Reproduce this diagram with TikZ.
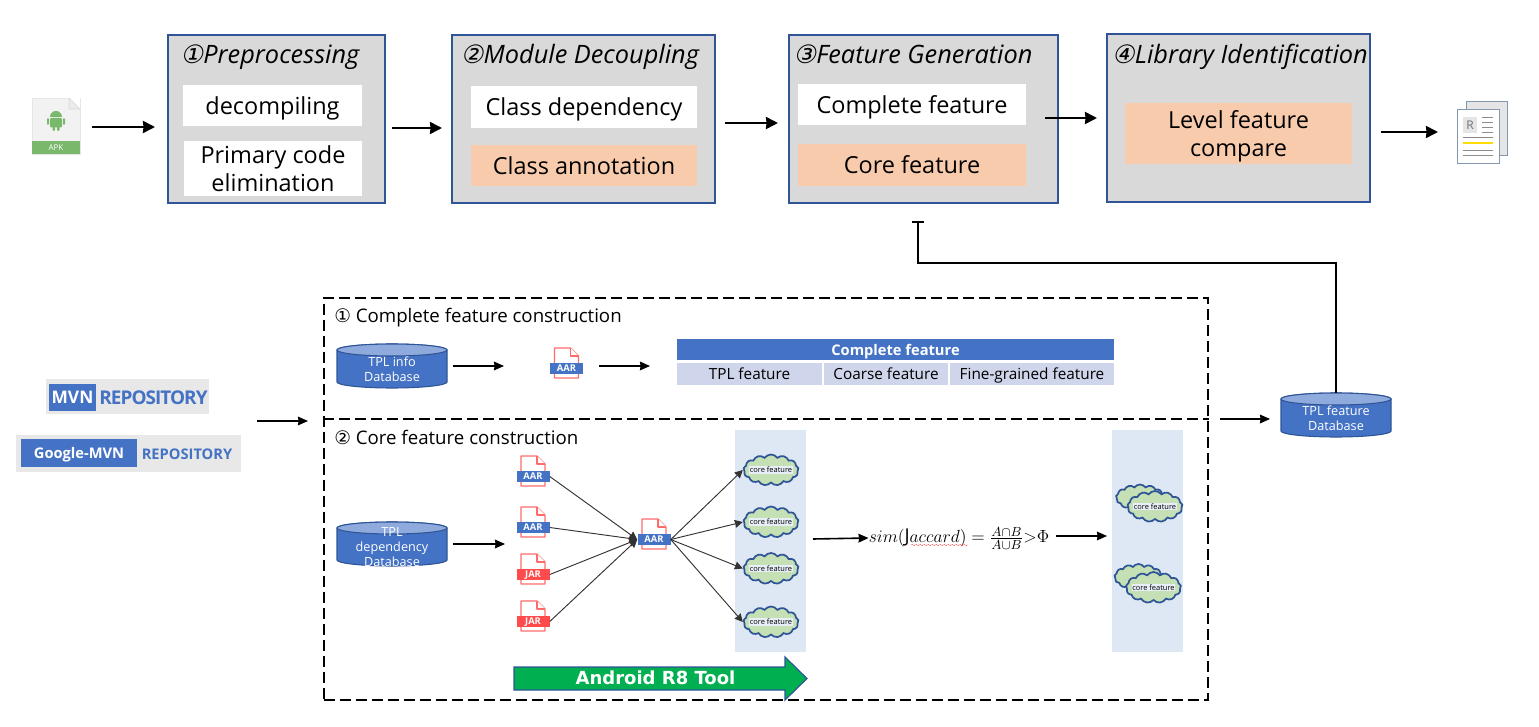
\documentclass[tikz,border=0pt]{standalone}
\usepackage{fontspec}
\usepackage{amsmath}
\setmainfont{Open Sans}
\newfontfamily\circfont{DejaVu Sans}
\newfontfamily\circslant[FakeSlant=0.2]{DejaVu Sans}
\usetikzlibrary{positioning,calc,arrows.meta}
\usetikzlibrary{shapes.symbols}
\usetikzlibrary{decorations.pathmorphing}
\definecolor{boxblue}{HTML}{2F5597}
\definecolor{midblue}{HTML}{4472C4}
\definecolor{topblue}{HTML}{8FAADC}
\definecolor{stagegray}{HTML}{D9D9D9}
\definecolor{peach}{HTML}{F8CBAD}
\definecolor{cellblue}{HTML}{CFD5EA}
\definecolor{panelblue}{HTML}{DEE8F5}
\definecolor{cloudgreen}{HTML}{C5E0B4}
\definecolor{filered}{HTML}{FF6B6B}
\definecolor{jarred}{HTML}{FF4B4B}
\definecolor{apkgreen}{HTML}{7AB86C}
\definecolor{logogray}{HTML}{E8E8E8}
\definecolor{pagegray}{HTML}{8497B0}
\definecolor{toolgreen}{HTML}{00B050}
\tikzset{%
  stage/.style={
    rectangle,
    draw=boxblue,
    fill=stagegray,
    line width=1.5pt,
    inner sep=0pt
  },
  part/.style={
    rectangle,
    align=center,
    inner sep=0pt,
    text height=13.5pt,
    text depth=0pt,
    font=\fontsize{17.6}{20.5}\selectfont
  },
  part two/.style={
    part,
    text height=34pt
  },
  stage title/.style={
    inner sep=0pt,
    text height=14pt,
    text depth=4pt,
    font=\fontsize{19}{22}\selectfont\itshape
  },
  feature title/.style={
    anchor=west,
    inner sep=0pt,
    font=\fontsize{14}{16}\selectfont
  },
  database/.style={
    draw=boxblue,
    line width=0.8pt,
    fill=midblue
  },
  database text/.style={
    rectangle,
    text=white,
    align=center,
    inner sep=0pt,
    font=\fontsize{9.5}{11.3}\selectfont
  },
  file outline/.style={
    draw=filered,
    fill=white,
    line width=0.8pt,
    line join=round
  },
  file tag/.style={
    rectangle,
    text=white,
    inner sep=0pt,
    text height=5.2pt,
    text depth=0pt,
    minimum width=33*0.75pt,
    minimum height=11.5*0.75pt,
    font=\fontsize{7}{8}\selectfont\bfseries
  },
  table cell/.style={
    rectangle,
    inner sep=0pt,
    text height=8.5pt,
    text depth=0pt,
    font=\fontsize{11.5}{13}\selectfont
  },
  core cloud/.style={
    cloud,
    cloud puffs=13,
    cloud puff arc=110,
    aspect=1.7,
    draw=boxblue,
    fill=cloudgreen,
    line width=1.3pt,
    inner sep=0pt,
    minimum width=55*0.75pt,
    minimum height=31*0.75pt
  },
  back cloud/.style={
    core cloud,
    minimum width=48*0.75pt,
    minimum height=26*0.75pt
  },
  core label/.style={
    rectangle,
    fill=panelblue!70!white,
    inner sep=0.6pt,
    minimum width=40*0.75pt,
    font=\fontsize{5.6}{7}\selectfont
  },
  flow/.style={
    -{Stealth[length=9pt,width=9pt,inset=0.4pt]},
    line width=1.8pt
  },
  small flow/.style={
    -{Stealth[length=7.5pt,width=6.5pt,inset=0.4pt]},
    line width=1.2pt
  },
  thin flow/.style={
    -{Stealth[length=6pt,width=6pt,inset=0.3pt]},
    line width=0.7pt,
    draw=black!80
  },
}
\begin{document}
\begin{tikzpicture}[x=0.75pt, y=-0.75pt]
    \useasboundingbox (0,0) rectangle (1539,727);

    % top row
    \foreach \i/\x/\y/\w/\h in {1/276.5/119/217/168,2/583.5/119/263/168,3/923.5/119/269/168,4/1238.5/118/263/168}
        \node [stage, minimum width=\w*0.75pt, minimum height=\h*0.75pt] (stage-\i) at (\x,\y) {};
    \foreach \i/\x/\n/\t in {1/270/{①}/Preprocessing,2/580/{②}/Module Decoupling,3/913/{③}/Feature Generation,4/1240/{④}/Library Identification}
        \node [stage title] (title-\i) at (\x,56.5) {{\circslant\n}\t};

    \foreach \n/\x/\y/\w/\h/\c/\t in {
        decompile/272.5/105.5/179/41/white/decompiling,
        dependency/584/107/226/42/white/Class dependency,
        annotation/584/165.5/226/41/peach/Class annotation,
        complete/912/104.5/228/41/white/Complete feature,
        core/912/165/228/42/peach/Core feature}
        \node [part, fill=\c, minimum width=\w*0.75pt, minimum height=\h*0.75pt] (\n) at (\x,\y) {\t};
    \foreach \n/\x/\y/\w/\h/\c/\t in {
        primary/273/168.5/178/55/white/{Primary code\\elimination},
        level/1238.5/133.5/227/61/peach/{Level feature\\compare}}
        \node [part two, fill=\c, minimum width=\w*0.75pt, minimum height=\h*0.75pt] (\n) at (\x,\y) {\t};

    % apk icon
    \node [draw=black!10, fill=black!5, minimum width=48*0.75pt, minimum height=56*0.75pt, inner sep=0pt] (apk) at (56,126) {};
    \fill [white] (69,98) -- (80,98) -- (80,109) -- cycle;
    \draw [black!15, fill=black!8] (69,98) -- (69,109) -- (80,109) -- cycle;
    \node [fill=apkgreen, text=white, minimum width=48*0.75pt, minimum height=12.5*0.75pt, inner sep=0pt, font=\fontsize{6}{7}\selectfont] (apk-tag) at (56,147.75) {APK};
    \fill [apkgreen] (50,117) arc (180:0:4.5pt) -- cycle;
    \fill [apkgreen, rounded corners=0.8pt] (50,118) rectangle (62,127.5);
    \fill [apkgreen, rounded corners=0.8pt] (47,118) rectangle (49,125);
    \fill [apkgreen, rounded corners=0.8pt] (63,118) rectangle (65,125);
    \fill [apkgreen, rounded corners=0.8pt] (52.5,126) rectangle (55,131);
    \fill [apkgreen, rounded corners=0.8pt] (57,126) rectangle (59.5,131);

    % report icon
    \draw [pagegray, fill=black!10, line width=0.7pt] (1466,101) rectangle (1507,155);
    \node [draw=pagegray, fill=white, line width=0.7pt, minimum width=42*0.75pt, minimum height=54*0.75pt, inner sep=0pt] (report) at (1478,136) {};
    \node [fill=black!10, text=black!55, minimum width=14*0.75pt, minimum height=16*0.75pt, inner sep=0pt, font=\fontsize{9}{10}\selectfont] (report-r) at (1470,125) {R};
    \foreach \y in {117,122,127,132}
        \draw [black!45, line width=0.6pt] (1482,\y) -- (1493,\y);
    \foreach \y in {137,150,155}
        \draw [black!45, line width=0.6pt] (1463,\y) -- (1493,\y);
    \draw [yellow!80!orange, line width=2pt] (1463,143) -- (1493,143);

    \coordinate (apk-out) at (92,127);
    \coordinate (stage1-in) at (155,127);
    \coordinate (stage1-out) at (392,128);
    \coordinate (stage2-in) at (442,128);
    \coordinate (stage2-out) at (725,123);
    \coordinate (stage3-in) at (778,123);
    \coordinate (stage3-out) at (1045,118);
    \coordinate (stage4-in) at (1097,118);
    \coordinate (stage4-out) at (1381,132);
    \coordinate (report-in) at (1438,132);
    \foreach \a/\b in {apk-out/stage1-in,stage1-out/stage2-in,stage2-out/stage3-in,stage3-out/stage4-in,stage4-out/report-in}
        \draw [flow] (\a) -- (\b);

    % dashed frame
    \node [draw, line width=1.5pt, dash pattern=on 8pt off 4pt, minimum width=884*0.75pt, minimum height=402*0.75pt, inner sep=0pt] (frame) at (766,499) {};
    \draw [line width=1.5pt, dash pattern=on 8pt off 4pt] (frame.west |- 0,419) coordinate (split-l) -- (frame.east |- 0,419) coordinate (split-r);
    \node [feature title] (complete-title) at (334,318) {{\circfont ①} Complete feature construction};
    \node [feature title] (core-title) at (334,437) {{\circfont ②} Core feature construction};

    % logos
    \node [fill=logogray, minimum width=163*0.75pt, minimum height=35*0.75pt, inner sep=0pt] (mvn-bg) at (127.5,396.5) {};
    \node [fill=midblue, text=white, minimum width=47*0.75pt, minimum height=27*0.75pt, inner sep=0pt, font=\fontsize{13}{16}\selectfont\bfseries] (mvn) at (72.5,397.5) {MVN};
    \node [text=midblue, inner sep=0pt, font=\fontsize{14.2}{16}\selectfont\bfseries] (mvn-repo) at (153.5,397.5) {\addfontfeature{LetterSpace=-5}REPOSITORY};
    \node [fill=logogray, minimum width=225*0.75pt, minimum height=37*0.75pt, inner sep=0pt] (google-bg) at (128.5,453.5) {};
    \node [fill=midblue, text=white, minimum width=116*0.75pt, minimum height=28*0.75pt, inner sep=0pt, text height=8pt, text depth=0pt, font=\fontsize{11}{12}\selectfont\bfseries] (google) at (79,453) {Google-MVN};
    \node [text=midblue, inner sep=0pt, font=\fontsize{11}{12}\selectfont\bfseries] (google-repo) at (187,454) {REPOSITORY};
    \coordinate (repo-out) at (257,421);
    \coordinate (frame-in) at (308,421);
    \draw [small flow] (repo-out) -- (frame-in);
    \coordinate (frame-out) at (1220,419);
    \coordinate (db-in) at (1270,419);
    \draw [small flow] (frame-out) -- (db-in);

    % databases
    \foreach \n/\x/\y/\t in {info/392/366/{TPL info\\Database},dep/392/544/{TPL\\dependency\\Database},feature/1336/415/{TPL feature\\Database}}{
        \draw [database] (\x-55,\y-16) -- (\x-55,\y+16) arc (180:360:41.25pt and 4.5pt) -- (\x+55,\y-16) arc (0:180:41.25pt and 4.5pt) -- cycle;
        \draw [database, fill=topblue] (\x,\y-16) ellipse (41.25pt and 4.5pt);
        \node [database text, minimum width=110*0.75pt, minimum height=44*0.75pt] (db-\n) at (\x,\y) {};
        \node [database text] (db-\n-text) at (\x,\y+3) {\t};
    }

    % feedback line
    \coordinate (feedback) at (918,221);
    \draw [-{Bar[width=9pt]}, line width=1.3pt] (db-feature.north) -- (1336,263) -- (918,263) -- (feedback);

    % file icons
    \foreach \n/\x/\y/\c/\t in {aar-top/566.5/363/midblue/AAR,aar-1/533/471/midblue/AAR,aar-2/533/522/midblue/AAR,jar-1/533/569/jarred/JAR,jar-2/533/616/jarred/JAR,aar-mid/654/534/midblue/AAR}{
        \draw [file outline] (\x-12,\y-15) -- (\x+4,\y-15) -- (\x+12,\y-7) -- (\x+12,\y+15) -- (\x-12,\y+15) -- cycle;
        \draw [file outline] (\x+4,\y-15) -- (\x+4,\y-7) -- (\x+12,\y-7);
        \node [file tag, fill=\c] (\n) at (\x,\y+5.5) {\t};
    }

    % table
    \node [table cell, fill=midblue, text=white, minimum width=437*0.75pt, minimum height=21*0.75pt, font=\fontsize{11}{13}\selectfont\bfseries] (table-head) at (895.5,349.5) {Complete feature};
    \foreach \n/\x/\w/\t in {tpl/749.5/145/TPL feature,coarse/886/124/Coarse feature,fine/1032/164/Fine-grained feature}
        \node [table cell, fill=cellblue, minimum width=\w*0.75pt, minimum height=22*0.75pt] (cell-\n) at (\x,374) {\t};

    \coordinate (info-out) at (453,366);
    \coordinate (aar-in) at (504,366);
    \coordinate (aar-out) at (599,366);
    \coordinate (table-in) at (650,366);
    \draw [small flow] (info-out) -- (aar-in);
    \draw [small flow] (aar-out) -- (table-in);

    % panels and clouds
    \node [fill=panelblue, minimum width=71*0.75pt, minimum height=222*0.75pt, inner sep=0pt] (panel-1) at (770.5,541) {};
    \node [fill=panelblue, minimum width=71*0.75pt, minimum height=222*0.75pt, inner sep=0pt] (panel-2) at (1147.5,541) {};
    \foreach \i/\x/\y in {5/1140/497.5,6/1138.5/577}
        \node [back cloud] (back-\i) at (\x,\y) {};
    \foreach \i/\x/\y in {1/771/470,2/771/522,3/771/568.5,4/771/622,5/1155/506.5,6/1153.5/587.5}
        \node [core cloud] (cloud-\i) at (\x,\y) {};
    \foreach \i in {1,...,6}
        \node [core label] (label-\i) at (cloud-\i) {core feature};

    \coordinate (dep-out) at (453,544);
    \coordinate (aar-dep) at (505,544);
    \draw [small flow] (dep-out) -- (aar-dep);
    \foreach \n in {aar-1,aar-2,jar-1,jar-2}
        \draw [thin flow] (\n.east) -- (aar-mid.west);
    \foreach \i in {1,2,3,4}
        \draw [thin flow] (aar-mid.east) -- (cloud-\i.west);

    % formula
    \node [inner sep=0pt, scale=1.1, font=\fontsize{13}{15}\selectfont] (formula) at (959,538) {$sim(\mathrm{J}accard)=\frac{A\cap B}{A\cup B}{>}\Phi$};
    \draw [red!70, line width=0.3pt, decorate, decoration={snake, amplitude=0.4pt, segment length=3pt}] (911,545) -- (968,545);
    \coordinate (sim-in) at (813,539);
    \coordinate (sim-from) at (1056,536);
    \coordinate (sim-out) at (1107,536);
    \draw [small flow] (sim-in) -- (formula.west);
    \draw [small flow] (sim-from) -- (sim-out);

    % tool arrow
    \draw [draw=boxblue, fill=toolgreen, line width=0.9pt] (514,667) -- (785,667) -- (785,657) -- (807,678.5) -- (785,700) -- (785,690) -- (514,690) -- cycle;
    \node [text=white, inner sep=0pt, font=\circfont\fontsize{13.5}{15}\selectfont\bfseries] (tool-text) at (655.5,678) {Android R8 Tool};
\end{tikzpicture}
\end{document}
